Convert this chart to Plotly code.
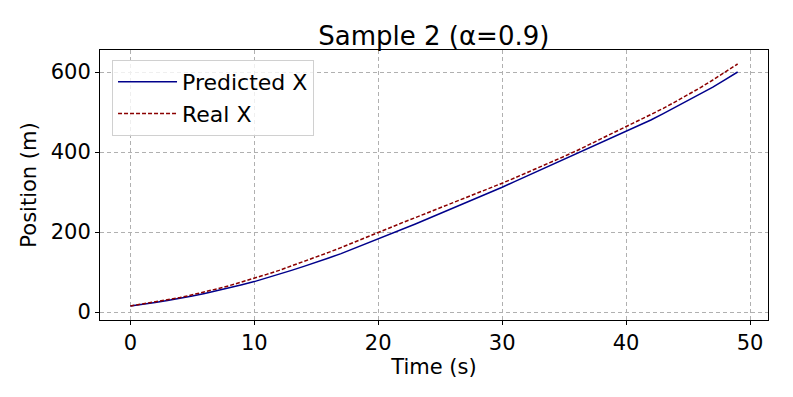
import plotly.graph_objects as go

# Data
time_s = list(range(50))
predicted_x = [15, 19, 24, 29, 34, 40, 46, 53, 60, 68,
               76, 85, 94, 104, 114, 124, 135, 146, 158, 170,
               182, 194, 207, 220, 233, 246, 259, 272, 285, 299,
               312, 326, 340, 353, 367, 381, 395, 409, 422, 436,
               450, 465, 480, 496, 512, 528, 545, 562, 581, 600]
real_x = [15, 20, 25, 30, 36, 43, 50, 58, 66, 75,
          84, 94, 104, 115, 126, 137, 149, 161, 174, 187,
          200, 212, 224, 236, 248, 260, 272, 285, 297, 310,
          322, 335, 348, 362, 375, 389, 403, 418, 432, 447,
          462, 477, 493, 509, 526, 543, 561, 580, 600, 620]

x_ticks = [0, 10, 20, 30, 40, 50]
y_ticks = [0, 200, 400, 600]

font_family = "DejaVu Sans"

fig = go.Figure()
fig.add_trace(go.Scatter(x=time_s, y=predicted_x, mode="lines", name="Predicted X",
                         line=dict(color="#00008B", width=1.5)))
fig.add_trace(go.Scatter(x=time_s, y=real_x, mode="lines", name="Real X",
                         line=dict(color="#8B0000", width=1.5, dash="4px,2px")))

axis_style = dict(
    showline=True, linecolor="black", linewidth=1, mirror=True,
    ticks="outside", ticklen=4, tickcolor="black",
    showgrid=True, gridcolor="#b0b0b0", griddash="4px,3px", gridwidth=1,
    zeroline=False, tickfont=dict(size=21, color="black"), automargin=False,
)

# the page body adds an 8px offset, so margins are shifted to compensate
fig.update_layout(
    width=793, height=397,
    margin=dict(l=92, r=33, t=42, b=85, autoexpand=False),
    paper_bgcolor="white", plot_bgcolor="white",
    font=dict(family=font_family, color="black"),
    title=dict(text="Sample 2 (α=0.9)", x=0.537, xanchor="center", y=0.929, yanchor="middle",
               font=dict(size=26)),
    legend=dict(x=0.018, y=0.963, xanchor="left", yanchor="top",
                bgcolor="rgba(255,255,255,0.8)", bordercolor="#d0d0d0", borderwidth=1,
                font=dict(size=22), itemwidth=59),
    xaxis=dict(range=[-2.45, 51.45], tickvals=x_ticks,
               title=dict(text="Time (s)", font=dict(size=21), standoff=4), **axis_style),
    yaxis=dict(range=[-20, 655], tickvals=y_ticks,
               title=dict(text="Position (m)", font=dict(size=21), standoff=8), **axis_style),
)

fig.write_html("out.html")
